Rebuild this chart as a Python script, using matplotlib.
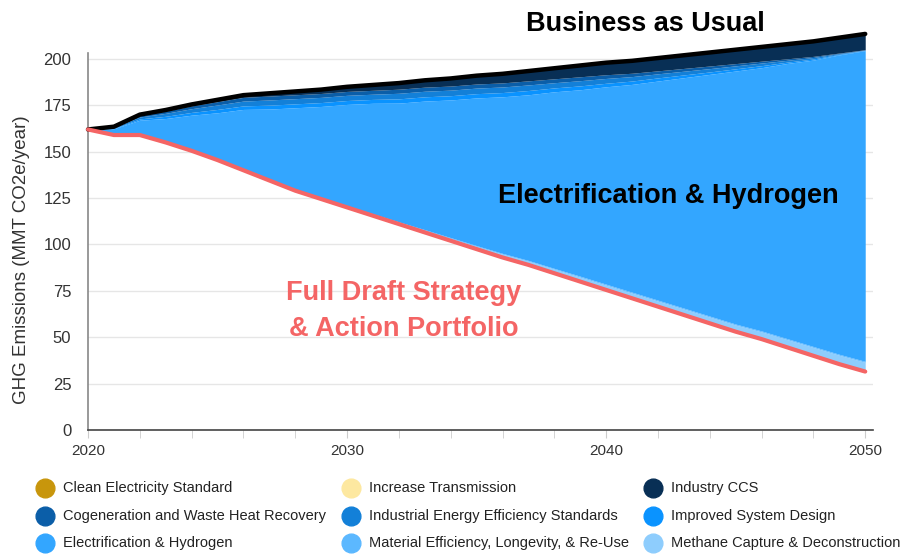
import numpy as np
import matplotlib
matplotlib.use("Agg")
import matplotlib.pyplot as plt
from matplotlib.lines import Line2D
from matplotlib.font_manager import fontManager

years = np.arange(2020, 2051)

# Full Draft Strategy & Action Portfolio (remaining emissions)
draft = [162, 159, 159, 155, 150.5, 145.5, 140, 134.5, 129, 124.5, 120, 115.5, 111, 106.5, 102, 97.5,
         93, 89, 84.5, 80, 75.5, 71, 66.5, 62, 57.5, 53, 49, 44.5, 40, 35.5, 31.5]

# wedges stacked on top of the draft line, bottom to top
methane = [0, 0, 0, 0, 0, 0, 0.1, 0.2, 0.3, 0.4, 0.5, 0.7, 0.9, 1.1, 1.3, 1.5,
           1.8, 2.0, 2.2, 2.4, 2.6, 2.8, 3.0, 3.2, 3.4, 3.6, 3.9, 4.2, 4.5, 4.8, 5.0]
material = [0, 0, 0, 0, 0.1, 0.1, 0.2, 0.2, 0.3, 0.3, 0.3, 0.3, 0.3, 0.4, 0.4, 0.4,
            0.4, 0.4, 0.4, 0.5, 0.5, 0.5, 0.5, 0.5, 0.5, 0.5, 0.5, 0.5, 0.5, 0.5, 0.5]
electrif = [0, 3.4, 8.0, 12.9, 19.1, 25.4, 32.5, 38.1, 44.1, 49.2, 54.7, 59.6, 64.0, 69.3, 74.2, 79.6,
            84.4, 89.3, 95.2, 100.5, 106.4, 112.0, 118.1, 124.2, 130.3, 136.4, 141.9, 148.4, 154.4, 161.4, 167.5]
sysdesign = [0, 0.2, 0.7, 1.2, 1.5, 1.8, 1.9, 2.1, 2.1, 2.1, 2.1, 2.1, 2.3, 2.3, 2.3, 2.3,
             2.3, 2.3, 2.1, 2.1, 1.9, 1.8, 1.7, 1.5, 1.3, 1.2, 1.1, 0.7, 0.6, 0.3, 0.2]
indeff = [0, 0.4, 1, 1.6, 2, 2.4, 2.6, 2.8, 2.8, 2.8, 2.8, 2.8, 3, 3, 3, 3,
          3, 3, 2.8, 2.8, 2.6, 2.4, 2.2, 2, 1.8, 1.6, 1.4, 1, 0.8, 0.4, 0.2]
cogen = [0, 0.2, 0.8, 1.2, 1.5, 1.8, 2, 2.1, 2.1, 2.1, 2.1, 2.1, 2.2, 2.2, 2.2, 2.2,
         2.2, 2.2, 2.1, 2.1, 2, 1.8, 1.6, 1.5, 1.4, 1.2, 1, 0.8, 0.6, 0.3, 0.1]
ccs = [0, 0.3, 0.5, 0.6, 0.8, 1, 1.2, 1.5, 1.8, 2.1, 2.5, 2.9, 3.3, 3.7, 4.1, 4.5,
       4.9, 5.3, 5.7, 6.1, 6.5, 6.7, 6.9, 7.1, 7.3, 7.5, 7.7, 7.9, 8.1, 8.3, 8.5]
clean_elec = [0] * 31
transmission = [0] * 31

legend_labels = ["Clean Electricity Standard", "Cogeneration and Waste Heat Recovery", "Electrification & Hydrogen",
                 "Increase Transmission", "Industrial Energy Efficiency Standards", "Material Efficiency, Longevity, & Re-Use",
                 "Industry CCS", "Improved System Design", "Methane Capture & Deconstruction"]
legend_colors = ["#c8960c", "#0b5ea8", "#33a6ff",
                 "#fde8a0", "#1380d8", "#5cb8ff",
                 "#082f55", "#0a93ff", "#8ecdfd"]

c_ccs, c_cogen, c_ind, c_sys = "#082f55", "#0b5ea8", "#1380d8", "#0a93ff"
c_el, c_mat, c_meth = "#33a6ff", "#5cb8ff", "#8ecdfd"

names = set(f.name for f in fontManager.ttflist)
narrow = "Liberation Sans Narrow" if "Liberation Sans Narrow" in names else "Liberation Sans"

fig = plt.figure(figsize=(9.07, 5.55), dpi=100)
ax = fig.add_axes([88/907, 1-430/555, (873-88)/907, (430-53.4)/555])

layers = [(methane, c_meth), (material, c_mat), (electrif, c_el), (sysdesign, c_sys),
          (indeff, c_ind), (cogen, c_cogen), (transmission, "#fde8a0"), (clean_elec, "#c8960c"), (ccs, c_ccs)]
base = np.array(draft, dtype=float)
for vals, col in layers:
    top = base + np.array(vals, dtype=float)
    ax.fill_between(years, base, top, color=col, lw=0, clip_on=False, zorder=2)
    base = top

ax.plot(years, base, color="black", lw=3.2, solid_capstyle="round", clip_on=False, zorder=4)
ax.plot(years, draft, color="#f46565", lw=3.0, solid_capstyle="round", clip_on=False, zorder=4)

ax.set_xlim(2020, 2050.3)
ax.set_ylim(0, 203)
ax.set_yticks(np.arange(0, 201, 25))
ax.set_xticks([2020, 2030, 2040, 2050])
ax.set_xticks(np.arange(2020, 2051, 2), minor=True)
ax.grid(axis="y", color="#e6e6e6", lw=1, zorder=0)
ax.set_axisbelow(True)
for s in ["top", "right"]:
    ax.spines[s].set_visible(False)
ax.spines["left"].set_color("#888888")
ax.spines["left"].set_linewidth(1.2)
ax.spines["bottom"].set_color("#444444")
ax.spines["bottom"].set_linewidth(1.2)
ax.tick_params(axis="y", length=0, pad=12, labelsize=12, labelcolor="#333333")
ax.tick_params(axis="x", which="both", length=6, color="#cccccc", pad=4, labelsize=11, labelcolor="#333333")
for lab in ax.get_yticklabels():
    lab.set_family("Liberation Sans")
for lab in ax.get_xticklabels():
    lab.set_family(narrow)

fig.text(22/907, 1-260/555, "GHG Emissions (MMT CO2e/year)", rotation=90, ha="center", va="center",
         fontsize=13.5, color="#333333", family="Liberation Sans")

ax.text(2042.4, 126, "Electrification & Hydrogen", ha="center", va="center", fontsize=19.5,
        fontweight="bold", color="black", family="Liberation Sans", zorder=5)
fig.text(645/907, 1-24/555, "Business as Usual", ha="center", va="center", fontsize=19.5,
         fontweight="bold", color="black", family="Liberation Sans")
ax.text(2032.2, 64, "Full Draft Strategy\n& Action Portfolio", ha="center", va="center", fontsize=19.5,
        fontweight="bold", color="#f46565", family="Liberation Sans", linespacing=1.5, zorder=5)

# legend, three columns laid out by hand
col_x = [45, 351, 653]
row_y = [488, 516, 543]
for i, (lab, col) in enumerate(zip(legend_labels, legend_colors)):
    cx = col_x[i // 3]
    cy = row_y[i % 3]
    fig.add_artist(Line2D([cx/907], [1-cy/555], marker="o", markersize=13.5, color=col, lw=0))
    fig.text((cx + 18)/907, 1-cy/555, lab, ha="left", va="center", fontsize=10.5,
             color="#222222", family=narrow)

fig.savefig("out.png", dpi=100)
